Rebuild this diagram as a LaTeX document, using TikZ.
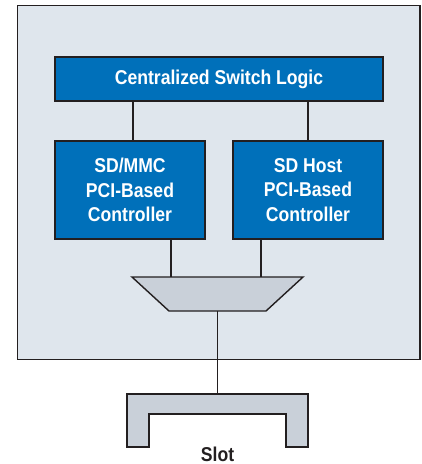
\documentclass[tikz,border=0pt]{standalone}
\usepackage{fontspec}
\setmainfont{Liberation Sans}[FakeStretch=0.88]
\definecolor{panel}{HTML}{DFE6ED}
\definecolor{blockblue}{HTML}{0070BA}
\definecolor{muxgray}{HTML}{C9D0D9}
\definecolor{ink}{HTML}{231F20}
\tikzset{
  block/.style={draw=ink, line width=1.4pt, fill=blockblue, text=white,
    font=\fontsize{20}{24.5}\selectfont\bfseries, align=center, inner sep=0pt},
  wire/.style={draw=ink, line width=1.4pt},
  outline/.style={draw=ink, line width=1.4pt, fill=muxgray},
}
\begin{document}
\begin{tikzpicture}[x=1pt,y=-1pt]
  \useasboundingbox (0,0) rectangle (422,464);
  % board outline
  \draw[draw=ink, line width=1.4pt, fill=panel] (17.5,5.5) rectangle (420,359.5);

  % blocks
  \node[block, minimum width=328pt, minimum height=44pt] (switch) at (219,79) {Centralized Switch Logic};
  \node[block, minimum width=150pt, minimum height=98pt] (ctrlA) at (130,190) {SD/MMC\\PCI-Based\\Controller};
  \node[block, minimum width=150pt, minimum height=98pt] (ctrlB) at (308,190) {SD Host\\PCI-Based\\Controller};

  % multiplexer
  \coordinate (muxin) at (217.5,277);
  \coordinate (muxout) at (217.5,311);
  \draw[outline] (132,277) -- (303,277) -- (266,311) -- (169,311) -- cycle;

  % slot connector
  \coordinate (slottop) at (217.5,394);
  \draw[outline]
    (127,394) -- (308,394) -- (308,447) -- (286,447) -- (286,414)
    -- (149,414) -- (149,447) -- (127,447) -- cycle;
  \node[font=\fontsize{20}{22}\selectfont\bfseries, text=ink, anchor=base, inner sep=0pt] (slotlabel) at (217.5,461) {Slot};

  % wiring
  \draw[wire] ([xshift=-86pt]switch.south) -- ([xshift=3pt]ctrlA.north);
  \draw[wire] ([xshift=89pt]switch.south) -- (ctrlB.north);
  \draw[wire] ([xshift=41pt]ctrlA.south) -- ([xshift=41pt]ctrlA.south |- muxin);
  \draw[wire] ([xshift=-47pt]ctrlB.south) -- ([xshift=-47pt]ctrlB.south |- muxin);
  \draw[wire] (muxout) -- (slottop);
\end{tikzpicture}
\end{document}
